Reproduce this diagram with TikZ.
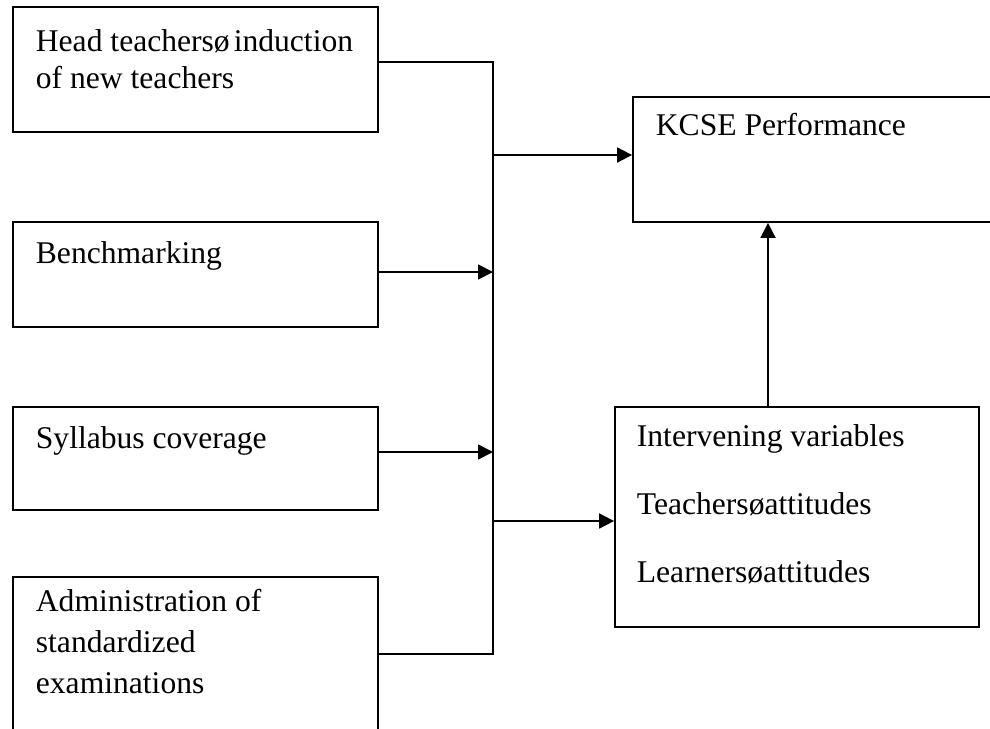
\documentclass[tikz,border=0pt]{standalone}
\usepackage{fontspec}
\setmainfont{Liberation Serif}
\usetikzlibrary{arrows.meta,fit}
\begin{document}
\begin{tikzpicture}[x=0.5pt,y=-0.5pt,line width=0.9pt,line join=miter,
  >={Triangle[length=7.5pt,width=7.5pt]},
  box/.style={draw,rectangle,inner sep=0pt},
  txt/.style={anchor=base west,inner sep=0pt,align=left,font=\fontsize{15.8}{20.5}\selectfont}]
\useasboundingbox (0,0) rectangle (990,728);
\clip (0,0) rectangle (990,728);
% independent variables
\node[box,fit={(13,7)(378,132)}] (induct) {};
\node[box,fit={(13,222)(378,327)}] (bench) {};
\node[box,fit={(13,407)(378,510)}] (syll) {};
\node[box,fit={(13,577)(378,731)}] (admin) {};
% dependent and intervening variables
\node[box,fit={(633,97)(1000,222)}] (kcse) {};
\node[box,fit={(615,407)(979,627)}] (interv) {};
% texts (base = last line)
\node[txt,font=\fontsize{15.8}{18.5}\selectfont] (tinduct) at (35,88)
  {Head teachersø\kern2pt induction\\of new teachers};
\node[txt] (tbench) at (35,263) {Benchmarking};
\node[txt] (tsyll) at (35,448) {Syllabus coverage};
\node[txt] (tadmin) at (35,693) {Administration of\\standardized\\examinations};
\node[txt] (tkcse) at (655,135) {KCSE Performance};
\node[txt,font=\fontsize{15.8}{34}\selectfont] (tinterv) at (636,582)
  {Intervening variables\\Teachersøattitudes\\Learnersøattitudes};
% connectors
\coordinate (bustop) at (493,62);
\coordinate (busbot) at (493,654);
\coordinate (j1) at (493,155);
\coordinate (j2) at (493,521);
\coordinate (j3) at (493,452);
\coordinate (j4) at (493,272);
\coordinate (up) at (768,407);
\draw (induct.east |- bustop) -- (bustop) -- (busbot) -- (admin.east |- busbot);
\draw[->] (j4 -| bench.east) -- (j4);
\draw[->] (j3 -| syll.east) -- (j3);
\draw[->] (j1) -- (j1 -| kcse.west);
\draw[->] (j2) -- (j2 -| interv.west);
\draw[->] (up) -- (up |- kcse.south);
\end{tikzpicture}
\end{document}
